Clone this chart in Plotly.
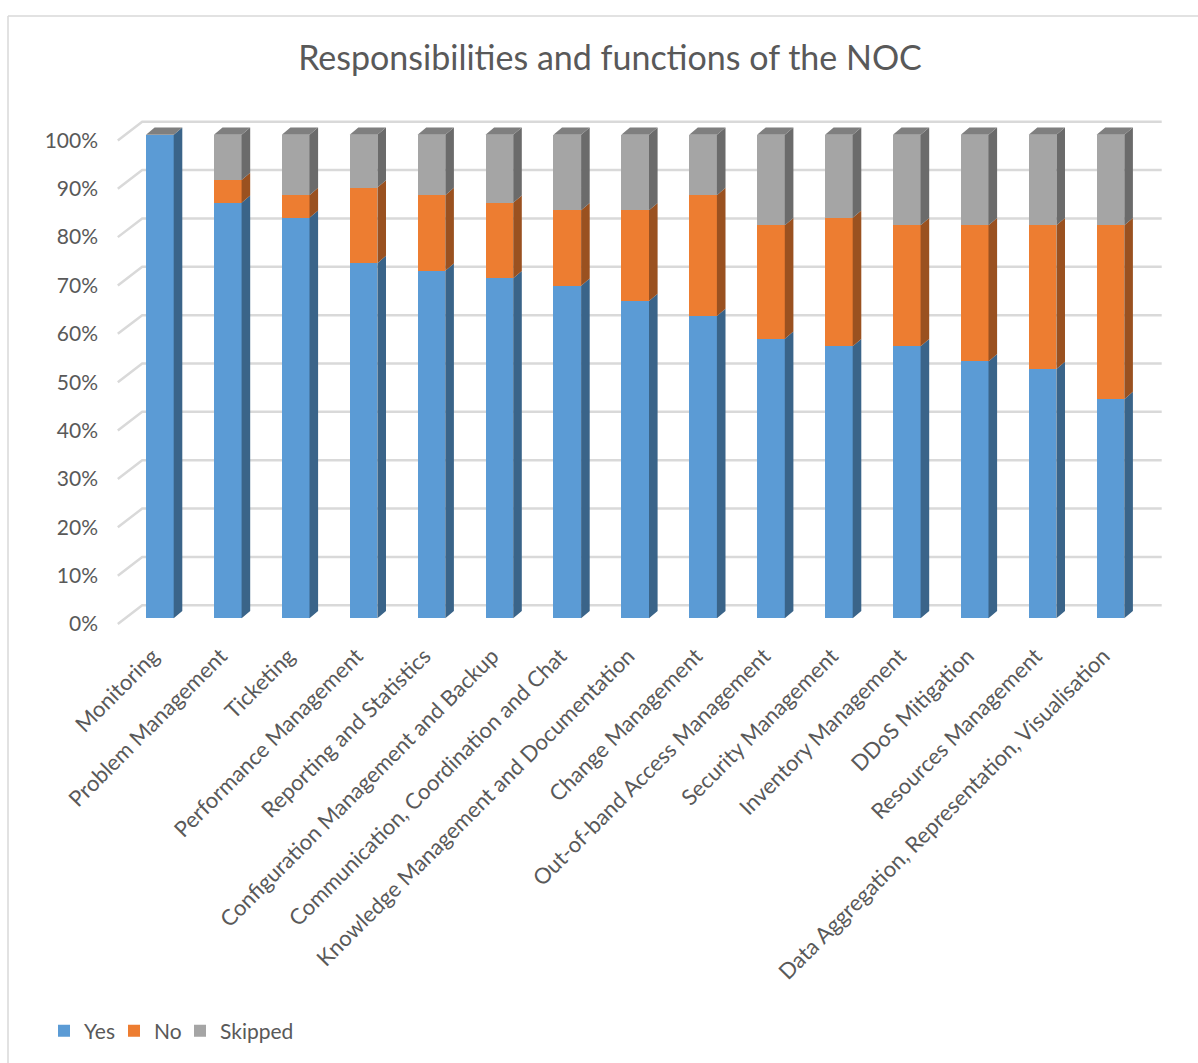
import plotly.graph_objects as go

# Survey answers per NOC function (number of respondents)
categories = [
    "Monitoring",
    "Problem Management",
    "Ticketing",
    "Performance Management",
    "Reporting and Statistics",
    "Configuration Management and Backup",
    "Communication, Coordination and Chat",
    "Knowledge Management and Documentation",
    "Change Management",
    "Out-of-band Access Management",
    "Security Management",
    "Inventory Management",
    "DDoS Mitigation",
    "Resources Management",
    "Data Aggregation, Representation, Visualisation",
]
yes_counts = [64, 55, 53, 47, 46, 45, 44, 42, 40, 37, 36, 36, 34, 33, 29]
no_counts = [0, 3, 3, 10, 10, 10, 10, 12, 16, 15, 17, 16, 18, 19, 23]
skipped_counts = [0, 6, 8, 7, 8, 9, 10, 10, 8, 12, 11, 12, 12, 12, 12]
series_names = ["Yes", "No", "Skipped"]
y_ticks = [0, 10, 20, 30, 40, 50, 60, 70, 80, 90, 100]

# ---- styling ------------------------------------------------------------
W, H = 1198, 1063
FRONT = {"Yes": "#5b9bd5", "No": "#ed7d31", "Skipped": "#a5a5a5"}
SIDE = {"Yes": "#3a6489", "No": "#9a5120", "Skipped": "#6b6b6b"}
TOP = "#7f7f7f"
GRID = "#d9d9d9"
TEXT = "#595959"
FONT = "Lato"

# plot area in pixels and pixel scale of the front plane
PL, PR, PT, PB = 102, 1175, 100, 640
X0_PX, X_UNIT = 159.85, 67.9        # pixel of first category, pixels per category
Y0_PX, Y_UNIT = 618.3, 4.836        # pixel of 0 %, pixels per percent
x_range = [(PL - X0_PX) / X_UNIT, (PR - X0_PX) / X_UNIT]
y_range = [(Y0_PX - PB) / Y_UNIT, (Y0_PX - PT) / Y_UNIT]

BAR_W = 27.7 / X_UNIT               # column width
DX, DY = 8.6 / X_UNIT, 7.3 / Y_UNIT  # column depth (3-D offset)
FLOOR_DROP = 5.7 / Y_UNIT           # front edge of the floor, below the columns
WALL_RISE = 13.0 / Y_UNIT           # back wall, behind the columns
WALL_FRONT_X = (117.8 - X0_PX) / X_UNIT
WALL_BACK_X = (142.2 - X0_PX) / X_UNIT
WALL_RIGHT_X = (1161.7 - X0_PX) / X_UNIT

# one legend box per series, placed along the bottom edge
LEGEND_IDS = {"Yes": "legend", "No": "legend2", "Skipped": "legend3"}
LEGEND_X_PX = {"Yes": 44, "No": 114, "Skipped": 180}
LEGEND_Y_PX = 1031

# ---- percentages ----------------------------------------------------------
counts = {"Yes": yes_counts, "No": no_counts, "Skipped": skipped_counts}
totals = [a + b + c for a, b, c in zip(yes_counts, no_counts, skipped_counts)]
pct = {k: [v / t * 100 for v, t in zip(vals, totals)] for k, vals in counts.items()}
xs = list(range(len(categories)))

fig = go.Figure()

# back wall and side wall gridlines (base subplot, drawn under the columns)
gx, gy = [], []
for v in y_ticks:
    gx += [WALL_FRONT_X, WALL_BACK_X, WALL_RIGHT_X, None]
    gy += [v - FLOOR_DROP, v + WALL_RISE, v + WALL_RISE, None]
fig.add_trace(go.Scatter(x=gx, y=gy, mode="lines", line=dict(color=GRID, width=2.5),
                         hoverinfo="skip", showlegend=False, xaxis="x", yaxis="y"))

# front faces of the stacked columns
for name in series_names:
    fig.add_trace(go.Bar(
        x=xs, y=pct[name], name=name, width=BAR_W,
        marker=dict(color=FRONT[name], line=dict(width=0)),
        legend=LEGEND_IDS[name],
        xaxis="x2", yaxis="y2",
    ))

# right-hand side faces of every segment
base = [0.0] * len(xs)
for name in series_names:
    sx, sy = [], []
    for i, x in enumerate(xs):
        y0, y1 = base[i], base[i] + pct[name][i]
        xr = x + BAR_W / 2
        if y1 > y0:
            sx += [xr, xr + DX, xr + DX, xr, xr, None]
            sy += [y0, y0 + DY, y1 + DY, y1, y0, None]
        base[i] = y1
    fig.add_trace(go.Scatter(x=sx, y=sy, mode="lines", fill="toself",
                             fillcolor=SIDE[name], line=dict(width=0, color=SIDE[name]),
                             hoverinfo="skip", showlegend=False, xaxis="x2", yaxis="y2"))

# top faces
tx, ty = [], []
for i, x in enumerate(xs):
    top = base[i]
    xl, xr = x - BAR_W / 2, x + BAR_W / 2
    tx += [xl, xl + DX, xr + DX, xr, xl, None]
    ty += [top, top + DY, top + DY, top, top, None]
fig.add_trace(go.Scatter(x=tx, y=ty, mode="lines", fill="toself", fillcolor=TOP,
                         line=dict(width=0, color=TOP), hoverinfo="skip",
                         showlegend=False, xaxis="x2", yaxis="y2"))

# chart frame (left and top edges)
def px_x(p):
    return (p - PL) / (PR - PL)

def px_y(p):
    return (PB - p) / (PB - PT)

fig.add_shape(type="line", xref="paper", yref="paper",
              x0=px_x(8), x1=px_x(8), y0=px_y(16), y1=px_y(H + 10),
              line=dict(color=GRID, width=1.5))
fig.add_shape(type="line", xref="paper", yref="paper",
              x0=px_x(8), x1=px_x(W + 10), y0=px_y(16), y1=px_y(16),
              line=dict(color=GRID, width=1.5))

legend_layout = {
    LEGEND_IDS[name]: dict(
        orientation="h", xref="container", yref="container",
        x=LEGEND_X_PX[name] / W, xanchor="left",
        y=1 - LEGEND_Y_PX / H, yanchor="middle",
        font=dict(family=FONT, size=21, color=TEXT),
        bgcolor="rgba(0,0,0,0)",
    )
    for name in series_names
}

fig.update_layout(
    width=W, height=H,
    margin=dict(l=PL, r=W - PR, t=PT, b=H - PB),
    paper_bgcolor="white", plot_bgcolor="rgba(0,0,0,0)",
    barmode="stack", bargap=0,
    font=dict(family=FONT, color=TEXT, size=21),
    title=dict(text="Responsibilities and functions of the NOC",
               font=dict(family=FONT, size=34, color=TEXT),
               x=610 / W, xanchor="center", xref="container",
               y=1 - 58 / H, yanchor="middle", yref="container"),
    xaxis=dict(range=x_range, showgrid=False, zeroline=False, showline=False,
               tickmode="array", tickvals=xs, ticktext=categories, tickangle=-45,
               ticks="", ticklabelshift=-7, ticklabelstandoff=-2,
               tickfont=dict(family=FONT, size=22, color=TEXT)),
    yaxis=dict(range=y_range, showgrid=False, zeroline=False, showline=False,
               tickmode="array", tickvals=[v - FLOOR_DROP for v in y_ticks],
               ticktext=[f"{v}%" for v in y_ticks], ticks="", ticklabelstandoff=3,
               tickfont=dict(family=FONT, size=21, color=TEXT)),
    xaxis2=dict(range=x_range, overlaying="x", visible=False),
    yaxis2=dict(range=y_range, overlaying="y", visible=False),
    showlegend=True,
    **legend_layout,
)

fig.write_html("out.html")
